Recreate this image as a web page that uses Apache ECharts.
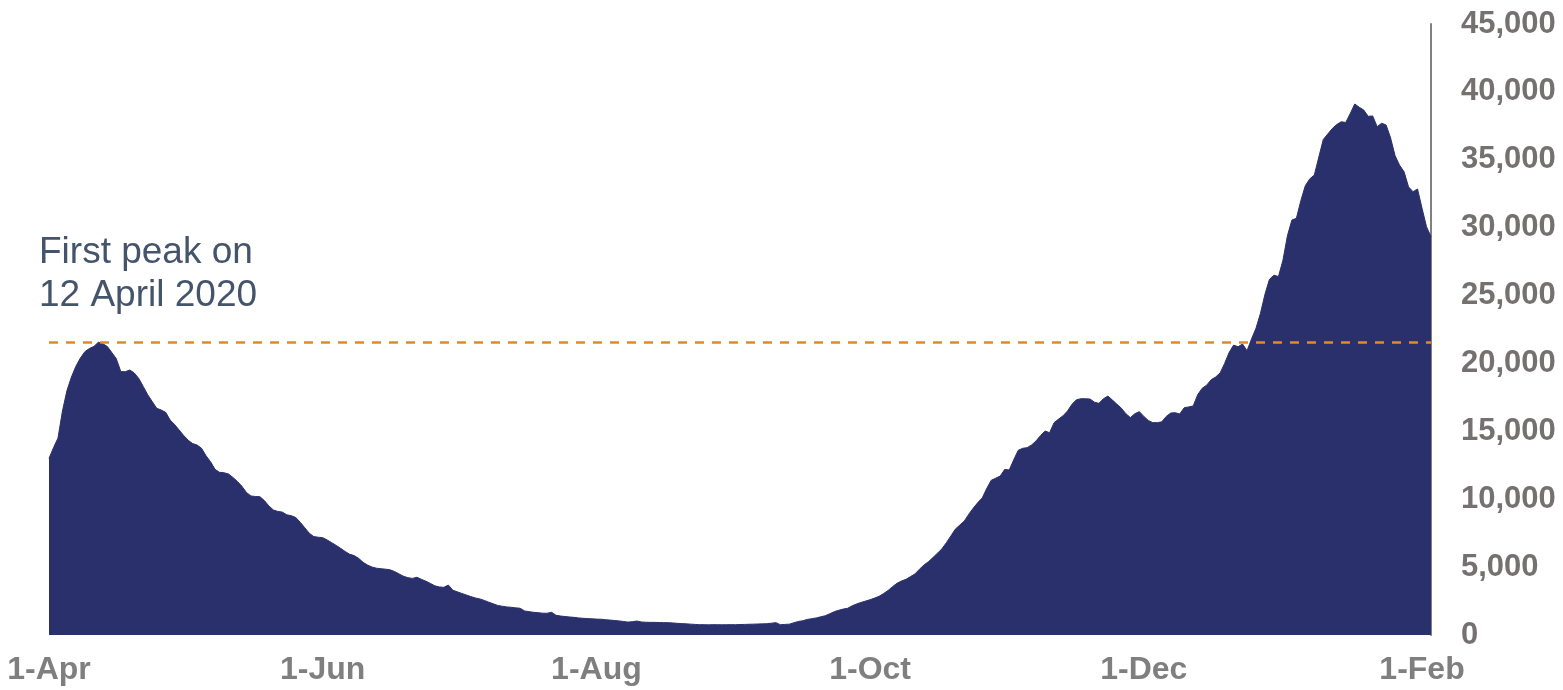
<!DOCTYPE html>
<html>
<head>
<meta charset="utf-8">
<script src="https://cdn.jsdelivr.net/npm/echarts@6/dist/echarts.min.js"></script>
<style>
  html, body { margin: 0; padding: 0; background: #fff; }
  #chart-container { width: 1563px; height: 690px; }
</style>
</head>
<body>
<div id="chart-container"></div>
<script>
// daily values, 1 Apr 2020 .. 3 Feb 2021
const aprMay = [13000,13800,14500,16500,18000,19000,19800,20400,20870,21100,
  21250,21560,21450,21250,20800,20350,19400,19390,19520,19300,
  18900,18300,17700,17200,16700,16570,16400,15830,15500,15100,
  14700,14350,14100,13990,13750,13200,12760,12200,11980,11950,
  11860,11600,11300,10950,10500,10240,10200,10190,9900,9500,
  9210,9100,9050,8850,8790,8650,8300,7900,7500,7250,7200];
const junJul = [7170,7000,6800,6600,6380,6150,5950,5850,5650,5350,
  5150,5000,4920,4880,4850,4800,4680,4500,4330,4220,
  4170,4250,4100,3960,3800,3620,3540,3510,3680,3300,
  3180,3060,2950,2830,2730,2660,2550,2420,2300,2180,
  2120,2070,2040,2000,1970,1770,1720,1670,1640,1610,
  1600,1670,1450,1400,1360,1330,1300,1260,1230,1210,1190];
const augSep = [1170,1160,1130,1100,1070,1040,1000,950,980,1030,
  960,940,930,930,920,910,910,890,860,840,
  820,800,780,760,760,750,760,760,750,760,
  760,760,770,780,790,800,810,820,830,870,
  910,760,780,800,900,1000,1050,1150,1200,1260,
  1340,1420,1560,1720,1820,1910,1970,2150,2290,2400,2500];
const octNov = [2600,2720,2850,3050,3280,3560,3810,3980,4100,4300,
  4500,4850,5150,5400,5700,6020,6350,6800,7300,7800,
  8100,8400,8900,9350,9750,10100,10800,11400,11550,11710,
  12200,12150,12900,13600,13750,13800,14000,14300,14700,15020,
  14900,15640,15900,16150,16500,17000,17330,17400,17400,17380,
  17150,17060,17400,17600,17300,17000,16700,16300,16010,16300,16450];
const decFeb = [16100,15800,15640,15640,15700,16100,16350,16370,16280,16740,
  16800,16870,17700,18170,18400,18800,19000,19300,20000,20800,
  21350,21230,21430,20940,21800,22600,23700,25100,26200,26500,
  26400,27600,29400,30560,30690,32000,33100,33600,33880,35200,
  36500,36900,37300,37600,37800,37750,38400,39110,38870,38670,
  38200,38230,37440,37690,37560,36600,35300,34600,34120,33000,
  32650,32850,31430,30070,29330];

const cases = [].concat(aprMay, junJul, augSep, octNov, decFeb);

const monthNames = ['Jan','Feb','Mar','Apr','May','Jun','Jul','Aug','Sep','Oct','Nov','Dec'];
const shownMonths = ['Apr','Jun','Aug','Oct','Dec','Feb'];
const dates = [];
for (let i = 0; i < cases.length; i++) {
    const d = new Date(Date.UTC(2020, 3, 1 + i));
    dates.push(d.toISOString().slice(0, 10));
}

const firstPeak = Math.max(...cases.slice(0, 60));
const yTicks = { min: 0, max: 45000, step: 5000 };

function isShown(val) {
    const m = monthNames[+val.slice(5, 7) - 1];
    return val.slice(8, 10) === '01' && shownMonths.indexOf(m) >= 0;
}

const myChart = echarts.init(document.getElementById('chart-container'));
const option = {
    animation: false,
    grid: { left: 49, right: 132, top: 24, bottom: 55 },
    xAxis: {
        type: 'category',
        boundaryGap: false,
        data: dates,
        axisLine: { show: false },
        axisTick: { show: false },
        axisLabel: {
            interval: 0,
            hideOverlap: false,
            showMinLabel: true,
            showMaxLabel: true,
            formatter: function (val) {
                return isShown(val) ? '1-' + monthNames[+val.slice(5, 7) - 1] : '';
            },
            margin: 19,
            color: '#7f7f7f',
            fontSize: 32,
            fontWeight: 'bold',
            fontFamily: "'Liberation Sans Narrow', 'Arial Narrow', 'Liberation Sans', sans-serif"
        }
    },
    yAxis: {
        type: 'value',
        position: 'right',
        min: yTicks.min,
        max: yTicks.max,
        interval: yTicks.step,
        splitLine: { show: false },
        axisTick: { show: false },
        axisLine: { show: true, lineStyle: { color: '#808080', width: 2 } },
        axisLabel: {
            margin: 30,
            color: '#767171',
            fontSize: 31,
            fontWeight: 'bold',
            fontFamily: "'Liberation Sans', Arial, sans-serif",
            formatter: function (v) { return v.toLocaleString('en-US'); }
        }
    },
    series: [{
        name: 'cases',
        type: 'line',
        symbol: 'none',
        data: cases,
        lineStyle: { color: '#29306b', width: 1 },
        areaStyle: { color: '#29306b', opacity: 1 },
        markLine: {
            silent: true,
            symbol: 'none',
            label: { show: false },
            lineStyle: { color: '#e08a2e', type: [9, 8], width: 2.5 },
            data: [{ yAxis: firstPeak }]
        }
    }],
    graphic: [{
        type: 'text',
        left: 39,
        top: 231,
        style: {
            text: 'First peak on\n12 April 2020',
            font: "37px 'Liberation Sans', Arial, sans-serif",
            lineHeight: 43,
            fill: '#44546a'
        }
    }]
};

option && myChart.setOption(option);
</script>
</body>
</html>
